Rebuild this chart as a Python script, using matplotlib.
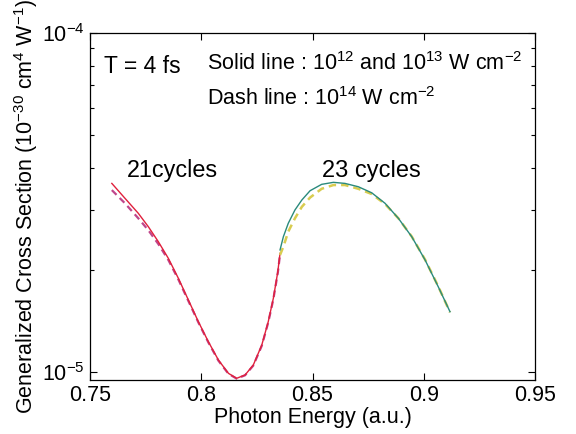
import numpy as np
import matplotlib
matplotlib.use("Agg")
import matplotlib.pyplot as plt
from matplotlib.ticker import LogLocator, FixedLocator, NullFormatter

plt.rcParams['font.family'] = ['Liberation Sans', 'DejaVu Sans']
plt.rcParams['mathtext.fontset'] = 'custom'
plt.rcParams['mathtext.rm'] = 'Liberation Sans'
plt.rcParams['mathtext.it'] = 'Liberation Sans:italic'
plt.rcParams['mathtext.bf'] = 'Liberation Sans:bold'

# 21 cycles, solid (10^12 and 10^13 W cm^-2)
e21 = [0.7598, 0.7657, 0.7717, 0.7762, 0.7807, 0.7852, 0.7897, 0.7942, 0.7987, 0.8032,
       0.8077, 0.8122, 0.8159, 0.8197, 0.8234, 0.8272, 0.8301, 0.8324, 0.8344, 0.8354]
s21 = [3.60e-5, 3.254e-5, 2.938e-5, 2.683e-5, 2.423e-5, 2.164e-5, 1.890e-5, 1.631e-5, 1.407e-5, 1.228e-5,
       1.085e-5, 9.91e-6, 9.58e-6, 9.80e-6, 1.049e-5, 1.201e-5, 1.407e-5, 1.650e-5, 1.976e-5, 2.239e-5]
# 21 cycles, dashed (10^14 W cm^-2)
s21d = [3.44e-5, 3.145e-5, 2.84e-5, 2.62e-5, 2.385e-5, 2.14e-5, 1.875e-5, 1.62e-5, 1.40e-5, 1.222e-5,
        1.08e-5, 9.88e-6, 9.56e-6, 9.78e-6, 1.045e-5, 1.195e-5, 1.40e-5, 1.64e-5, 1.96e-5, 2.22e-5]

# 23 cycles, solid
e23 = [0.8354, 0.8369, 0.8391, 0.8421, 0.8452, 0.8489, 0.8541, 0.8594, 0.8646,
       0.8706, 0.8766, 0.8826, 0.8886, 0.8946, 0.9006, 0.9065, 0.9118]
s23 = [2.291e-5, 2.506e-5, 2.745e-5, 3.005e-5, 3.216e-5, 3.425e-5, 3.577e-5, 3.626e-5, 3.60e-5,
       3.519e-5, 3.378e-5, 3.145e-5, 2.84e-5, 2.506e-5, 2.140e-5, 1.785e-5, 1.506e-5]
# 23 cycles, dashed
s23d = [2.214e-5, 2.342e-5, 2.594e-5, 2.84e-5, 3.07e-5, 3.27e-5, 3.47e-5, 3.56e-5, 3.56e-5,
        3.47e-5, 3.35e-5, 3.13e-5, 2.84e-5, 2.51e-5, 2.145e-5, 1.79e-5, 1.50e-5]

fig = plt.figure(figsize=(5.76, 4.34), dpi=100)
ax = fig.add_axes([0.1563, 0.1244, 0.7725, 0.7996])

ax.semilogy(e21, s21d, color='#c0468c', lw=1.6, ls=(0, (3, 2)))
ax.semilogy(e21, s21, color='#e0203c', lw=1.0)
ax.semilogy(e23, s23d, color='#d8cc50', lw=1.8, ls=(0, (3, 2)))
ax.semilogy(e23, s23, color='#2a8a7c', lw=1.0)

ax.set_xlim(0.75, 0.95)
ax.set_ylim(9.47e-6, 1e-4)
ax.set_xticks([0.75, 0.8, 0.85, 0.9, 0.95])
ax.set_xticklabels(['0.75', '0.8', '0.85', '0.9', '0.95'])
ax.yaxis.set_major_locator(FixedLocator([1e-5, 1e-4]))
ax.set_yticklabels(['10$^{-5}$', '10$^{-4}$'])
ax.yaxis.set_minor_locator(LogLocator(base=10, subs=np.arange(2, 10)))
ax.yaxis.set_minor_formatter(NullFormatter())
ax.tick_params(which='both', direction='in', top=True, right=True, labelsize=15.5, width=0.8)
ax.tick_params(which='major', length=5)
ax.tick_params(which='minor', length=3)
for sp in ax.spines.values():
    sp.set_linewidth(0.9)

ax.set_xlabel('Photon Energy (a.u.)', fontsize=15.5, labelpad=1)
ax.set_ylabel('Generalized Cross Section (10$^{-30}$ cm$^4$ W$^{-1}$)', fontsize=15.5, labelpad=2)

ax.text(0.031, 0.884, 'T = 4 fs', transform=ax.transAxes, fontsize=16.5)
ax.text(0.263, 0.893, 'Solid line : 10$^{12}$ and 10$^{13}$ W cm$^{-2}$', transform=ax.transAxes, fontsize=15.5)
ax.text(0.263, 0.793, 'Dash line : 10$^{14}$ W cm$^{-2}$', transform=ax.transAxes, fontsize=15.5)
ax.text(0.083, 0.585, '21cycles', transform=ax.transAxes, fontsize=16.8)
ax.text(0.521, 0.585, '23 cycles', transform=ax.transAxes, fontsize=17)

fig.savefig('out.png', dpi=100)
